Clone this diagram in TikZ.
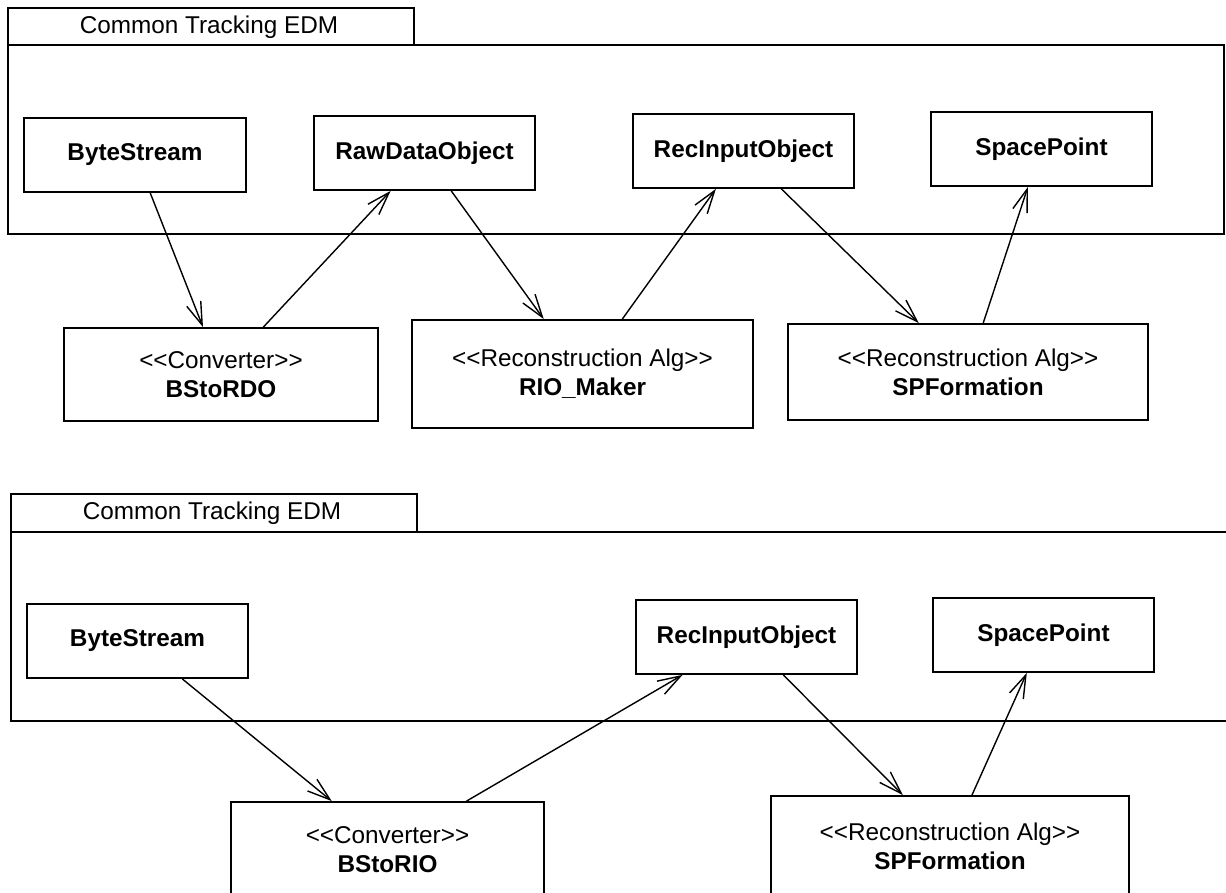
\documentclass[tikz,border=0pt]{standalone}
\usepackage{fontspec}
\setmainfont{Liberation Sans}
\usetikzlibrary{arrows.meta,calc}
\begin{document}
\begin{tikzpicture}[x=1pt,y=-1pt,
  pkg/.style={draw, line width=1.8pt},
  pkgname/.style={font=\fontsize{24.3}{29}\selectfont, inner sep=0pt},
  cls/.style={draw, line width=1.8pt, inner sep=0pt, align=center,
    font=\fontsize{24.3}{29}\selectfont\bfseries},
  algbox/.style={draw, line width=1.8pt, inner sep=0pt, align=center,
    font=\fontsize{24.3}{29}\selectfont},
  dep/.style={line width=1.4pt,
    -{Straight Barb[length=23pt,width=15pt,line width=1.4pt]}},
]
\useasboundingbox (0,0) rectangle (1226,892);
\clip (0,0) rectangle (1226,892);

% ---------- upper chain: ByteStream -> RDO -> RIO -> SpacePoint ----------
\draw[pkg] (8,8) rectangle (414,45);
\node[pkgname] (pkgA) at (209,27) {Common Tracking EDM};
\draw[pkg] (8,45) rectangle (1224,234);

\node[cls, minimum width=222pt, minimum height=74pt] (bsA)  at (135,155)    {ByteStream};
\node[cls, minimum width=221pt, minimum height=74pt] (rdoA) at (424.5,153)  {RawDataObject};
\node[cls, minimum width=221pt, minimum height=74pt] (recA) at (743.5,151)  {RecInputObject};
\node[cls, minimum width=221pt, minimum height=74pt] (spA)  at (1041.5,149) {SpacePoint};

\node[algbox, minimum width=314pt, minimum height=93pt]  (cnvA) at (221,374.5)
  {{<}{<}Converter{>}{>}\\ \bfseries BStoRDO};
\node[algbox, minimum width=341pt, minimum height=108pt] (rioA) at (582.5,374)
  {{<}{<}Reconstruction Alg{>}{>}\\ \bfseries RIO\_Maker};
\node[algbox, minimum width=360pt, minimum height=96pt]  (spfA) at (968,372)
  {{<}{<}Reconstruction Alg{>}{>}\\ \bfseries SPFormation};

\draw[dep] ($(bsA.south west)!0.568!(bsA.south east)$)   -- ($(cnvA.north west)!0.443!(cnvA.north east)$);
\draw[dep] ($(cnvA.north west)!0.634!(cnvA.north east)$) -- ($(rdoA.south west)!0.348!(rdoA.south east)$);
\draw[dep] ($(rdoA.south west)!0.620!(rdoA.south east)$) -- ($(rioA.north west)!0.387!(rioA.north east)$);
\draw[dep] ($(rioA.north west)!0.616!(rioA.north east)$) -- ($(recA.south west)!0.376!(recA.south east)$);
\draw[dep] ($(recA.south west)!0.670!(recA.south east)$) -- ($(spfA.north west)!0.364!(spfA.north east)$);
\draw[dep] ($(spfA.north west)!0.542!(spfA.north east)$) -- ($(spA.south west)!0.439!(spA.south east)$);

% ---------- lower chain: ByteStream -> RIO directly ----------
\draw[pkg] (11,494) rectangle (417,532);
\node[pkgname] (pkgB) at (212,513) {Common Tracking EDM};
\draw[pkg] (11,532) rectangle (1250,721);

\node[cls, minimum width=221pt, minimum height=74pt] (bsB)  at (137.5,641)  {ByteStream};
\node[cls, minimum width=221pt, minimum height=74pt] (recB) at (746.5,637)  {RecInputObject};
\node[cls, minimum width=221pt, minimum height=74pt] (spB)  at (1043.5,635) {SpacePoint};

% these two run past the lower edge of the sheet
\node[algbox, minimum width=313pt, minimum height=110pt, text depth=15pt] (cnvB) at (387.5,857)
  {{<}{<}Converter{>}{>}\\ \bfseries BStoRIO};
\node[algbox, minimum width=358pt, minimum height=110pt, text depth=10pt] (spfB) at (950,851)
  {{<}{<}Reconstruction Alg{>}{>}\\ \bfseries SPFormation};

\draw[dep] ($(bsB.south west)!0.701!(bsB.south east)$)   -- ($(cnvB.north west)!0.323!(cnvB.north east)$);
\draw[dep] ($(cnvB.north west)!0.751!(cnvB.north east)$) -- ($(recB.south west)!0.213!(recB.south east)$);
\draw[dep] ($(recB.south west)!0.665!(recB.south east)$) -- ($(spfB.north west)!0.369!(spfB.north east)$);
\draw[dep] ($(spfB.north west)!0.561!(spfB.north east)$) -- ($(spB.south west)!0.425!(spB.south east)$);
\end{tikzpicture}
\end{document}
